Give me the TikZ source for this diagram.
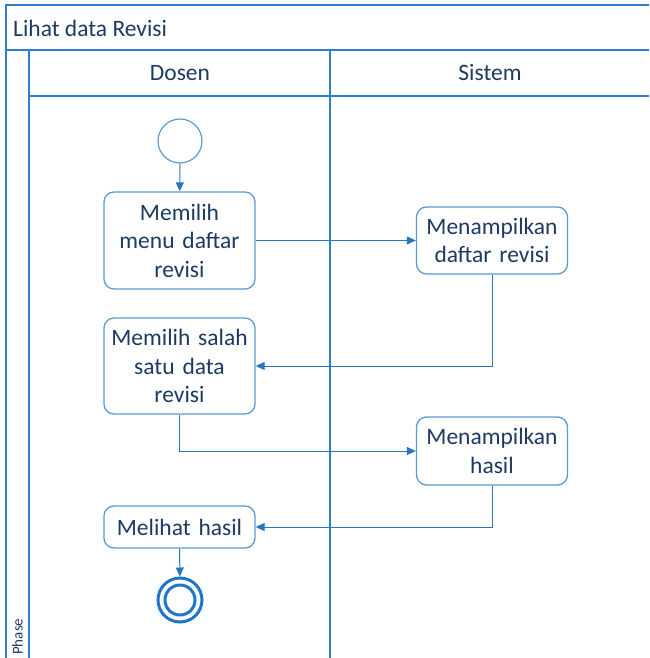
\documentclass[tikz,border=0pt]{standalone}
\usepackage{fontspec}
\setmainfont{Carlito}
\usetikzlibrary{arrows.meta}
\definecolor{lanec}{RGB}{45,128,206}
\definecolor{boxc}{RGB}{91,155,213}
\definecolor{arrc}{RGB}{40,118,194}
\definecolor{txtc}{RGB}{30,58,98}
\definecolor{endc}{RGB}{30,118,200}
\tikzset{
  lane/.style={draw=lanec, line width=1.4pt},
  act/.style={draw=boxc, line width=1.3pt, rounded corners=10pt, fill=white,
    align=center, text=txtc, font=\fontsize{23.5}{28.5}\selectfont,
    minimum width=151pt, text width=145pt, inner sep=0pt},
  flow/.style={draw=arrc, line width=1pt, -{Triangle[length=9pt,width=8pt]}},
  lbl/.style={text=txtc, font=\fontsize{23.5}{28}\selectfont, inner sep=0pt},
}
\begin{document}
\begin{tikzpicture}[x=1pt,y=-1pt]
\useasboundingbox (0,0) rectangle (649,658);
% frame and lanes
\draw[lane] (649,5) -- (6,5) -- (6,658);
\draw[lane] (6,50) -- (649,50);
\draw[lane] (29,50) -- (29,658);
\draw[lane] (29,96) -- (649,96);
\draw[lane] (330,50) -- (330,658);
\node[lbl, anchor=west] (title) at (13,28) {Lihat data Revisi};
\node[lbl] (dosen) at (180,73) {Dosen};
\node[lbl] (sistem) at (490,73) {Sistem};
\node[text=txtc, font=\fontsize{15}{17}\selectfont, rotate=90, anchor=west, inner sep=0pt] (phase) at (17.5,655) {Phase};
% nodes
\node[circle, draw=boxc, line width=1.2pt, minimum size=44pt, inner sep=0pt] (start) at (180,141) {};
\node[act, minimum height=97pt] (a1) at (179.5,240.5) {Memilih\\menu daftar\\revisi};
\node[act, minimum height=67pt] (s1) at (492,240.5) {Menampilkan\\daftar revisi};
\node[act, minimum height=96pt] (a2) at (179.5,366) {Memilih salah\\satu data\\revisi};
\node[act, minimum height=68pt] (s2) at (492,451) {Menampilkan\\hasil};
\node[act, minimum height=42pt] (a3) at (179.5,527) {Melihat hasil};
\node[circle, draw=endc, line width=3pt, minimum size=44pt, inner sep=0pt] (end) at (180,600) {};
\node[circle, draw=endc, line width=3pt, minimum size=30pt, inner sep=0pt] (endin) at (end.center) {};
% connectors
\draw[flow] (start) -- (a1);
\draw[flow] (a1.east) -- (s1.west);
\draw[flow] (s1.south) |- (a2.east);
\draw[flow] (a2.south) |- (s2.west);
\draw[flow] (s2.south) |- (a3.east);
\draw[flow] (a3) -- (end);
\end{tikzpicture}
\end{document}
